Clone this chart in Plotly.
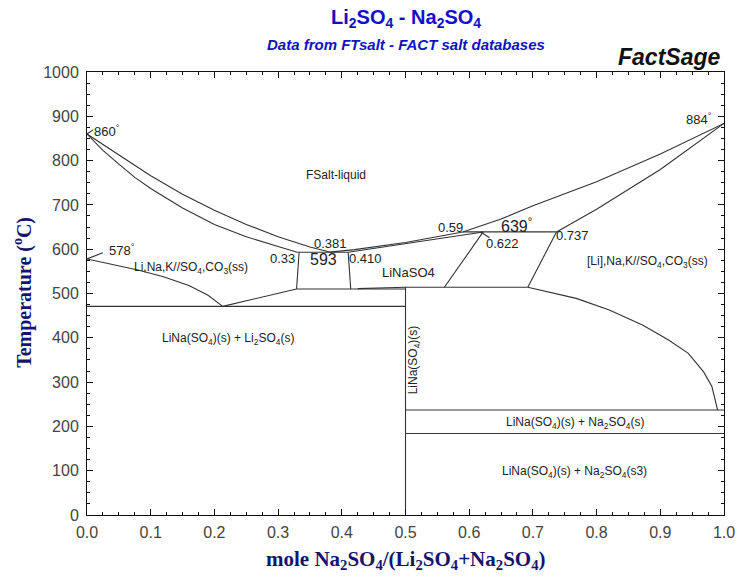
import plotly.graph_objects as go

# ---------------- data (mole fraction Na2SO4, temperature in C) ----------------
liq_left_x = [0.0, 0.05, 0.10, 0.15, 0.20, 0.25, 0.30, 0.35, 0.381]
liq_left_t = [860, 813, 766, 724, 688, 656, 628, 605, 593.5]

sol_left_x = [0.0, 0.025, 0.05, 0.075, 0.10, 0.125, 0.15, 0.20, 0.25, 0.30, 0.33]
sol_left_t = [860, 823, 792, 762, 737, 715, 693, 656, 628, 606, 593]

liq_mid_x = [0.381, 0.42, 0.50, 0.59]
liq_mid_t = [593.5, 599, 615, 639]

liq_right_x = [0.59, 0.65, 0.70, 0.80, 0.90, 1.0]
liq_right_t = [639, 668, 698, 752, 815, 884]

sol_mid_x = [0.410, 0.50, 0.622]
sol_mid_t = [593, 612, 639]

sol_right_x = [0.737, 0.80, 0.90, 1.0]
sol_right_t = [639, 690, 780, 884]

ss_left_x = [0.0, 0.04, 0.08, 0.12, 0.16, 0.19, 0.213]
ss_left_t = [578, 566, 553, 538, 518, 496, 471]

ss_rise_x = [0.213, 0.27, 0.329]
ss_rise_t = [471, 490, 510]

vert_a_x = [0.333, 0.331, 0.329]
vert_a_t = [593, 550, 510]
vert_b_x = [0.410, 0.412, 0.414]
vert_b_t = [593, 550, 510]

iso593_x = [0.33, 0.41]
iso593_t = [593, 593]
iso639_x = [0.59, 0.737]
iso639_t = [639, 639]
iso510_x = [0.329, 0.5]
iso510_t = [510, 510]
iso512_x = [0.425, 0.5]
iso512_t = [511, 514]
iso471_x = [0.0, 0.5]
iso471_t = [471, 471]
iso514_x = [0.5, 0.692]
iso514_t = [514, 514]
iso237_x = [0.5, 1.0]
iso237_t = [237, 237]
iso184_x = [0.5, 1.0]
iso184_t = [184, 184]

comp_x = [0.5, 0.5]
comp_t = [0, 515]

linaso4_right_x = [0.622, 0.561]
linaso4_right_t = [639, 514]
ss_right_x = [0.737, 0.692]
ss_right_t = [639, 514]

solvus_x = [0.692, 0.768, 0.820, 0.872, 0.913, 0.944, 0.968, 0.981, 0.990]
solvus_t = [514, 489, 463, 429, 395, 365, 323, 290, 237]

lead860_x = [0.0, 0.01]
lead860_t = [860, 870]
lead578_x = [0.0, 0.025]
lead578_t = [578, 592]
lead622_x = [0.618, 0.632]
lead622_t = [639, 626]

x_ticks = [0.0, 0.1, 0.2, 0.3, 0.4, 0.5, 0.6, 0.7, 0.8, 0.9, 1.0]
y_ticks = [0, 100, 200, 300, 400, 500, 600, 700, 800, 900, 1000]

# labels: (text, x, T, size, angle)
labels = [
    ("FSalt-liquid", 0.391, 767, 12, 0),
    ("Li,Na,K//SO<sub>4</sub>,CO<sub>3</sub>(ss)", 0.163, 558, 12, 0),
    ("[Li],Na,K//SO<sub>4</sub>,CO<sub>3</sub>(ss)", 0.880, 571, 12, 0),
    ("LiNaSO4", 0.505, 548, 13, 0),
    ("593", 0.372, 576, 16, 0),
    ("0.33", 0.307, 580, 13, 0),
    ("0.410", 0.437, 580, 13, 0),
    ("0.381", 0.383, 612, 13, 0),
    ("0.59", 0.570, 650, 13, 0),
    ("639<sup>°</sup>", 0.675, 654, 16, 0),
    ("0.622", 0.653, 612, 13, 0),
    ("0.737", 0.762, 630, 13, 0),
    ("860<sup>°</sup>", 0.032, 866, 13, 0),
    ("578<sup>°</sup>", 0.055, 598, 13, 0),
    ("884<sup>°</sup>", 0.960, 893, 13, 0),
    ("LiNa(SO<sub>4</sub>)(s) + Li<sub>2</sub>SO<sub>4</sub>(s)", 0.221, 397, 12, 0),
    ("LiNa(SO<sub>4</sub>)(s)", 0.514, 350, 12, -90),
    ("LiNa(SO<sub>4</sub>)(s) + Na<sub>2</sub>SO<sub>4</sub>(s)", 0.766, 208, 12, 0),
    ("LiNa(SO<sub>4</sub>)(s) + Na<sub>2</sub>SO<sub>4</sub>(s3)", 0.766, 97, 12, 0),
]

# ---------------- figure ----------------
fig = go.Figure()
line_style = dict(color="#333333", width=1.1)
segments = [
    (liq_left_x, liq_left_t), (sol_left_x, sol_left_t),
    (liq_mid_x, liq_mid_t), (liq_right_x, liq_right_t),
    (sol_mid_x, sol_mid_t), (sol_right_x, sol_right_t),
    (ss_left_x, ss_left_t), (ss_rise_x, ss_rise_t),
    (vert_a_x, vert_a_t), (vert_b_x, vert_b_t),
    (iso593_x, iso593_t), (iso639_x, iso639_t), (iso510_x, iso510_t),
    (iso512_x, iso512_t), (iso471_x, iso471_t), (iso514_x, iso514_t),
    (iso237_x, iso237_t), (iso184_x, iso184_t), (comp_x, comp_t),
    (linaso4_right_x, linaso4_right_t), (ss_right_x, ss_right_t),
    (solvus_x, solvus_t), (lead860_x, lead860_t), (lead578_x, lead578_t),
    (lead622_x, lead622_t),
]
for xs, ts in segments:
    fig.add_trace(go.Scatter(x=xs, y=ts, mode="lines", line=line_style,
                             hoverinfo="skip", showlegend=False))

lab_font = "Liberation Sans, Arial, sans-serif"
for text, x, t, size, ang in labels:
    fig.add_annotation(x=x, y=t, xref="x", yref="y", text=text, showarrow=False,
                       textangle=ang, font=dict(family=lab_font, size=size, color="#222222"))

# titles
fig.add_annotation(xref="paper", yref="paper", x=0.5, y=1.12, xanchor="center", yanchor="middle",
                   showarrow=False,
                   text="<b>Li<sub>2</sub>SO<sub>4</sub> - Na<sub>2</sub>SO<sub>4</sub></b>",
                   font=dict(family=lab_font, size=20, color="#1010C8"))
fig.add_annotation(xref="paper", yref="paper", x=0.5, y=1.061, xanchor="center", yanchor="middle",
                   showarrow=False,
                   text="<b><i>Data from FTsalt - FACT salt databases</i></b>",
                   font=dict(family=lab_font, size=15, color="#1010C8"))
fig.add_annotation(xref="paper", yref="paper", x=0.997, y=1.0, xanchor="right", yanchor="bottom",
                   showarrow=False, text="<b><i>FactSage</i></b>",
                   font=dict(family=lab_font, size=23, color="#111111"))
fig.add_annotation(xref="paper", yref="paper", x=-0.101, y=0.503, xanchor="center", yanchor="middle",
                   showarrow=False, textangle=-90,
                   text="<b>Temperature (<sup>o</sup>C)</b>",
                   font=dict(family="Liberation Serif, Times New Roman, serif", size=20, color="#14146E"))
fig.add_annotation(xref="paper", yref="paper", x=0.5, y=-0.102, xanchor="center", yanchor="middle",
                   showarrow=False,
                   text="<b>mole Na<sub>2</sub>SO<sub>4</sub>/(Li<sub>2</sub>SO<sub>4</sub>+Na<sub>2</sub>SO<sub>4</sub>)</b>",
                   font=dict(family="Liberation Serif, Times New Roman, serif", size=21, color="#14146E"))

axis_common = dict(showline=True, linecolor="#111111", linewidth=1, mirror="allticks",
                   ticks="inside", ticklen=6, tickcolor="#111111", showgrid=False, zeroline=False,
                   tickfont=dict(family=lab_font, size=16, color="#444444"),
                   minor=dict(ticks="inside", ticklen=3, tickcolor="#111111", showgrid=False))
fig.update_xaxes(range=[0, 1], tickvals=x_ticks, ticktext=[f"{v:.1f}" for v in x_ticks],
                 minor_dtick=0.025, ticklabelstandoff=3, **axis_common)
fig.update_yaxes(range=[0, 1000], tickvals=y_ticks, ticktext=[str(v) for v in y_ticks],
                 minor_dtick=25, ticklabelstandoff=4, **axis_common)

# page body adds an 8px offset, so the figure is sized to compensate
fig.update_layout(width=739, height=577, margin=dict(l=79, r=18, t=64, b=70),
                  plot_bgcolor="white", paper_bgcolor="white", showlegend=False)

fig.write_html("out.html")
